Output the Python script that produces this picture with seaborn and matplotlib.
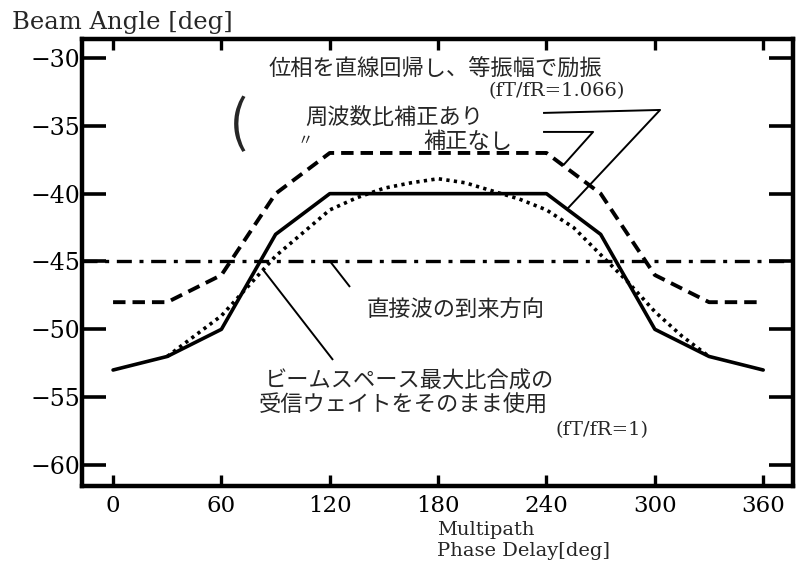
import numpy as np
import pandas as pd
import seaborn as sns
import matplotlib
matplotlib.use("Agg")
import matplotlib.pyplot as plt

# ---- data ----
phase = [0, 30, 60, 90, 120, 150, 180, 210, 240, 270, 300, 330, 360]
angle_corr = [-53, -52, -50, -43, -40, -40, -40, -40, -40, -43, -50, -52, -53]      # 周波数比補正あり (solid)
angle_nocorr = [-48, -48, -46, -40, -37, -37, -37, -37, -37, -40, -46, -48, -48]    # 補正なし (dashed)
phase_mrc = [30, 45, 60, 75, 90, 105, 120, 135, 150, 165, 180, 195, 210, 225, 240,
             255, 270, 285, 300, 315, 330]
angle_mrc = [-52.0, -50.5, -49.0, -46.8, -44.6, -42.9, -41.2, -40.3, -39.6, -39.2, -38.9,
             -39.2, -39.8, -40.4, -41.2, -42.5, -44.5, -46.5, -48.7, -50.5, -52.0]  # fT/fR=1 (dotted)
direct_angle = -45
xticks = [0, 60, 120, 180, 240, 300, 360]
yticks = [-30, -35, -40, -45, -50, -55, -60]

sns.set_style("ticks")
plt.rcParams["font.family"] = ["DejaVu Serif"]
JP = ["Noto Sans CJK JP", "DejaVu Sans"]
SERIF = ["DejaVu Serif"]

W, H = 799, 562
fig = plt.figure(figsize=(W / 100, H / 100), dpi=100)
fig.patch.set_facecolor("white")
ax = fig.add_axes([82 / W, (H - 486) / H, (793 - 82) / W, (486 - 39) / H])
ax.set_facecolor("white")

sns.lineplot(x=phase, y=angle_corr, ax=ax, color="black", lw=2.6,
             estimator=None, sort=False)
sns.lineplot(x=phase, y=angle_nocorr, ax=ax, color="black", lw=2.8,
             estimator=None, sort=False, linestyle=(0, (3.2, 1.8)))
sns.lineplot(x=phase_mrc, y=angle_mrc, ax=ax, color="black", lw=2.6,
             estimator=None, sort=False, linestyle=(0, (0.9, 1.2)))
ax.axhline(direct_angle, color="black", lw=2.4, linestyle=(0, (4.5, 2.3, 1.2, 2.3)))

ax.set_xlim(-17.2, 376.5)
ax.set_ylim(-61.55, -28.6)
ax.set_xticks(xticks)
ax.set_yticks(yticks)
ax.set_xticklabels([str(v) for v in xticks])
ax.set_yticklabels(["\u2212" + str(abs(v)) for v in yticks])
for s in ax.spines.values():
    s.set_linewidth(3.2)
    s.set_color("black")
ax.tick_params(axis="y", direction="in", length=17, width=2.6, left=True, right=True,
               labelsize=17, pad=1.5, colors="black")
ax.tick_params(axis="x", direction="in", length=8, width=2.4, bottom=True, top=True,
               labelsize=16.5, pad=6.5, colors="black")
for lab in ax.get_xticklabels() + ax.get_yticklabels():
    lab.set_family(SERIF)
ax.set_xlabel("")
ax.set_ylabel("")

# ---- texts ----
fig.text(12 / W, 1 - 22 / H, "Beam Angle [deg]", family=SERIF, fontsize=17.5,
         ha="left", va="center")
fig.text(437 / W, 1 - 535 / H, "Multipath", family=SERIF, fontsize=14,
         ha="left", va="baseline")
fig.text(437 / W, 1 - 555.5 / H, "Phase Delay[deg]", family=SERIF, fontsize=14,
         ha="left", va="baseline")

ax.text(178.3, -30.85, "位相を直線回帰し、等振幅で励振", family=JP, fontsize=16,
        ha="center", va="center")
ax.text(245.8, -32.45, "(fT/fR=1.066)", family=SERIF, fontsize=14,
        ha="center", va="center")
ax.text(69.2, -35.0, "(", family=JP, fontsize=40, ha="center", va="center")
ax.text(155.9, -34.4, "周波数比補正あり", family=JP, fontsize=16,
        ha="center", va="center")
ax.text(106.3, -36.05, "〃", family=JP, fontsize=11, ha="center", va="center")
ax.text(196.6, -36.12, "補正なし", family=JP, fontsize=16, ha="center", va="center")
ax.text(189.6, -48.57, "直接波の到来方向", family=JP, fontsize=16,
        ha="center", va="center")
ax.text(164.2, -53.85, "ビームスペース最大比合成の", family=JP, fontsize=16,
        ha="center", va="center")
ax.text(160.6, -55.62, "受信ウェイトをそのまま使用", family=JP, fontsize=16,
        ha="center", va="center")
ax.text(271, -57.4, "(fT/fR=1)", family=SERIF, fontsize=14,
        ha="center", va="center")

# ---- leader lines ----
lk = dict(color="black", lw=1.4, solid_capstyle="butt")
t1 = 251.4
ax.plot([238.1, 302.9, t1], [-34.05, -33.83, np.interp(t1, phase, angle_corr)], **lk)
t2 = 249.2
ax.plot([238.1, 265.8, t2], [-35.45, -35.45, np.interp(t2, phase, angle_nocorr)], **lk)
ax.plot([120.2, 131.2], [direct_angle, -46.88], **lk)
t3 = 83.1
ax.plot([t3, 121.8], [np.interp(t3, phase_mrc, angle_mrc), -52.26], **lk)

fig.savefig("out.png", dpi=100, facecolor="white")
